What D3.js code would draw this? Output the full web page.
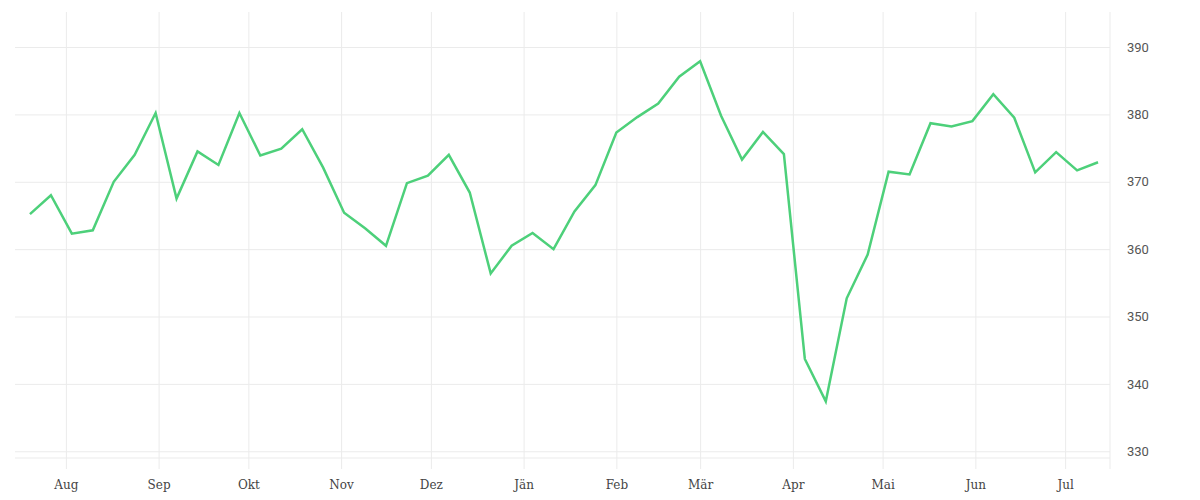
<!DOCTYPE html>
<html>
<head>
<meta charset="utf-8">
<script src="https://cdn.jsdelivr.net/npm/d3@7"></script>
<style>
  body { margin: 0; background: #fff; }
  .grid line, .grid path { stroke: #ebebeb; }
  .xlabels text { font-family: "DejaVu Serif", serif; font-size: 12px; fill: #444; }
  .ylabels text { font-family: Roboto, "Liberation Sans", sans-serif; font-size: 13px; fill: #555; }
</style>
</head>
<body>
<svg id="chart" width="1200" height="500"></svg>
<script>
// Weekly readings, one per week
const dates = [
  "2022-07-20", "2022-07-27", "2022-08-03", "2022-08-10", "2022-08-17", "2022-08-24", "2022-08-31",
  "2022-09-07", "2022-09-14", "2022-09-21", "2022-09-28", "2022-10-05", "2022-10-12", "2022-10-19",
  "2022-10-26", "2022-11-02", "2022-11-09", "2022-11-16", "2022-11-23", "2022-11-30", "2022-12-07",
  "2022-12-14", "2022-12-21", "2022-12-28", "2023-01-04", "2023-01-11", "2023-01-18", "2023-01-25",
  "2023-02-01", "2023-02-08", "2023-02-15", "2023-02-22", "2023-03-01", "2023-03-08", "2023-03-15",
  "2023-03-22", "2023-03-29", "2023-04-05", "2023-04-12", "2023-04-19", "2023-04-26", "2023-05-03",
  "2023-05-10", "2023-05-17", "2023-05-24", "2023-05-31", "2023-06-07", "2023-06-14", "2023-06-21",
  "2023-06-28", "2023-07-05", "2023-07-12"
];
const values = [
  365.2, 368.0, 362.3, 362.8, 370.0, 374.0, 380.2,
  367.5, 374.5, 372.5, 380.2, 373.9, 374.9, 377.8,
  372.1, 365.4, 363.1, 360.5, 369.8, 370.9, 374.0,
  368.4, 356.4, 360.5, 362.4, 360.0, 365.6, 369.5,
  377.3, 379.6, 381.6, 385.6, 387.9, 379.8, 373.3,
  377.4, 374.1, 343.7, 337.4, 352.7, 359.2, 371.5,
  371.1, 378.7, 378.2, 379.0, 383.0, 379.5, 371.4,
  374.4, 371.7, 372.9
];
const monthLabels = ["Jän", "Feb", "Mär", "Apr", "Mai", "Jun", "Jul", "Aug", "Sep", "Okt", "Nov", "Dez"];
const yTicks = [330, 340, 350, 360, 370, 380, 390];

const svg = d3.select("#chart");
const plotLeft = 15, plotRight = 1110, plotTop = 12, plotBottom = 458;

const parse = d3.utcParse("%Y-%m-%d");
const data = dates.map((d, i) => ({ date: parse(d), value: values[i] }));

const x = d3.scaleUtc()
    .domain([parse("2022-07-15"), parse("2023-07-16")])
    .range([plotLeft, plotRight]);
const y = d3.scaleLinear()
    .domain([329, 395.2])
    .range([plotBottom, plotTop]);

const monthTicks = d3.utcMonth.range(parse("2022-08-01"), parse("2023-07-02"));

// Vertical grid lines (they run a little below the plot like ticks)
svg.append("g")
    .attr("class", "grid")
    .attr("transform", `translate(0,${plotTop})`)
    .call(d3.axisBottom(x).tickValues(monthTicks).tickSize(plotBottom - plotTop + 11).tickFormat(""))
    .call(g => g.select(".domain").remove());

// Horizontal grid lines + right labels
svg.append("g")
    .attr("class", "grid ylabels")
    .attr("transform", `translate(${plotRight},0)`)
    .call(d3.axisRight(y).tickValues(yTicks).tickSize(-(plotRight - plotLeft)).tickPadding(17))
    .call(g => g.select(".domain").remove());

// Plot frame: bottom and right edges
svg.append("line")
    .attr("x1", plotLeft).attr("x2", plotRight)
    .attr("y1", plotBottom).attr("y2", plotBottom)
    .attr("stroke", "#ebebeb");
svg.append("line")
    .attr("x1", plotRight).attr("x2", plotRight)
    .attr("y1", plotTop).attr("y2", plotBottom + 11)
    .attr("stroke", "#ebebeb");

// Month labels
svg.append("g")
    .attr("class", "xlabels")
    .attr("transform", `translate(0,${plotBottom})`)
    .call(d3.axisBottom(x).tickValues(monthTicks).tickSize(0).tickPadding(22)
        .tickFormat(d => monthLabels[d.getUTCMonth()]))
    .call(g => g.select(".domain").remove());

// Line
const line = d3.line()
    .x(d => x(d.date))
    .y(d => y(d.value));

svg.append("path")
    .datum(data)
    .attr("fill", "none")
    .attr("stroke", "#4dd07a")
    .attr("stroke-width", 2.5)
    .attr("d", line);
</script>
</body>
</html>
